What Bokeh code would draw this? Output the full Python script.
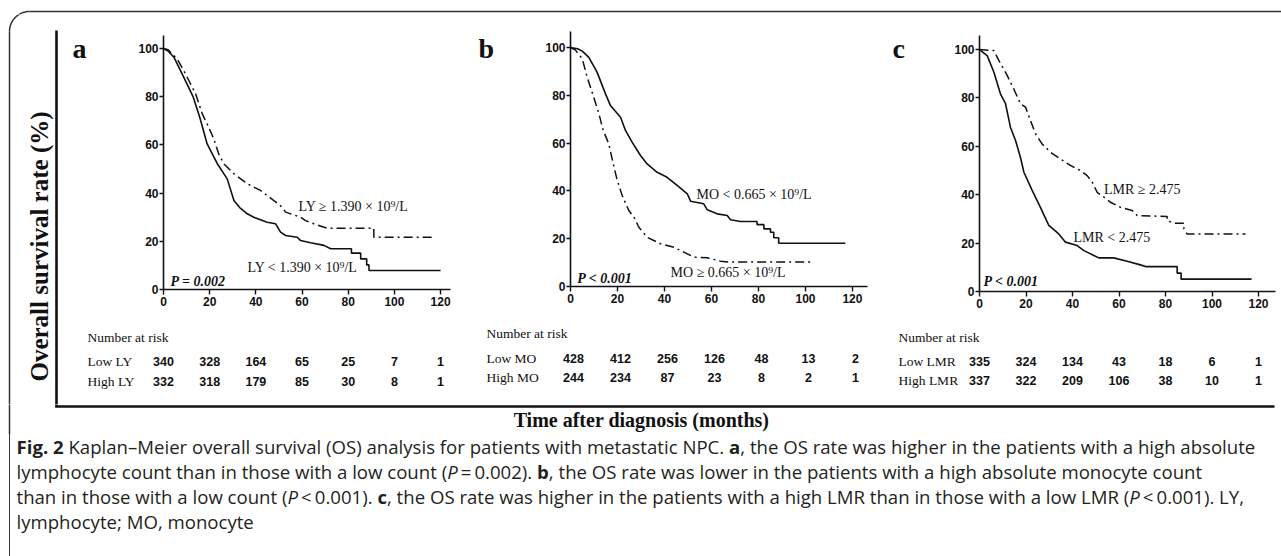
import numpy as np
from bokeh.plotting import figure
from bokeh.layouts import column, row
from bokeh.models import Range1d, FixedTicker, Label, Div
from bokeh.core.properties import value
from bokeh.embed import file_html
from bokeh.resources import INLINE

SERIF = "Liberation Serif"
SANS = "Liberation Sans"
INK = "#111111"

# ---------------- data ----------------
MONTH_TICKS = [0, 20, 40, 60, 80, 100, 120]
SURV_TICKS = [0, 20, 40, 60, 80, 100]
RISK_MONTHS = [0, 20, 40, 60, 80, 100, 120]

# Panel a (lymphocyte)
a_low_t = [0, 2, 4.5, 8.8, 12.9, 15.7, 18.9, 23.3, 27.6, 30.5, 33, 36.3, 39.1, 44.9, 48.5, 50.7, 52.9,
           57.9, 59.4, 63.7, 69.5, 72.4, 81.4, 81.4, 85.4, 85.4, 88, 88, 89, 89, 120]
a_low_s = [100, 99, 96.4, 88, 79.8, 71.5, 60.4, 52.2, 45.9, 36.9, 34, 31.4, 30, 27.9, 27.3, 23.8, 22.4,
           21.7, 20.3, 19.4, 18.3, 16.9, 16.9, 15.1, 15.1, 12.7, 12.7, 10.2, 10.2, 7.9, 7.9]
a_high_t = [0, 2, 5.9, 9.5, 13.9, 16.8, 19.6, 21.8, 23.9, 26.1, 30.5, 36.3, 42, 47.8, 50.5, 52.9,
            59.4, 61.5, 65.1, 70.9, 91.1, 91.1, 117]
a_high_s = [100, 99.5, 95.7, 89.5, 81.2, 72.9, 67.3, 62.5, 56.3, 52.2, 48, 43.9, 41.1, 36.9, 35, 32.1,
            30, 28.6, 27.3, 25.4, 25.4, 21.7, 21.7]
a_rows = ["Low LY", "High LY"]
a_risk_low = [340, 328, 164, 65, 25, 7, 1]
a_risk_high = [332, 318, 179, 85, 30, 8, 1]

# Panel b (monocyte)
b_low_t = [0, 3, 5, 7.8, 11.3, 14.9, 17, 21.3, 23.4, 26.2, 29.8, 32.6, 36.9, 41.1, 45.4, 49.7, 51.1,
           56.7, 58.2, 62.4, 66.7, 68.1, 72.3, 79.4, 79.4, 82.3, 82.3, 85.1, 85.1, 86.5, 86.5, 88.6, 88.6, 117]
b_low_s = [100, 99.5, 98.5, 95.9, 89.7, 80.6, 75.7, 70.8, 65.3, 60.4, 54.8, 51.3, 47.8, 45.7, 42.3, 38.8, 35.7,
           34.6, 32.1, 30.4, 29.7, 27.9, 27.2, 27.2, 25.9, 25.9, 24.1, 24.1, 22.7, 22.7, 20.4, 20.4, 18.1, 18.1]
b_high_t = [0, 2, 5, 7.1, 9.2, 12.1, 13.9, 16.3, 18.2, 19.9, 22, 24.8, 27, 29.1, 32.6, 38.3, 44, 48.2,
            52.5, 58.2, 63.8, 68.1, 102]
b_high_s = [100, 99, 95.3, 87.6, 81.3, 72.3, 65.3, 59.7, 51.3, 44.4, 38.1, 31.8, 29, 24.8, 20.6, 17.9, 16.4, 14.4,
            12.3, 12, 10.6, 10.2, 10.2]
b_rows = ["Low MO", "High MO"]
b_risk_low = [428, 412, 256, 126, 48, 13, 2]
b_risk_high = [244, 234, 87, 23, 8, 2, 1]

# Panel c (LMR)
c_low_t = [0, 3.3, 6.2, 9, 11.2, 13.3, 15.5, 17.6, 19.1, 22.7, 26.2, 29.8, 34.1, 37, 42, 44.9, 49.2, 51.3,
           57.7, 63.5, 69.2, 71.4, 85, 85, 86.7, 86.7, 117]
c_low_s = [100, 97.5, 90.6, 81.7, 77.6, 67.9, 62.4, 55.5, 49.3, 41.7, 34.8, 27.3, 23.8, 20.4, 19, 16.9, 14.9, 13.9,
           13.9, 12.5, 11, 10.3, 10.3, 7.6, 7.6, 5.1, 5.1]
c_high_t = [0, 6.2, 8.3, 11.9, 14.7, 17.6, 19.8, 21.9, 24.1, 26.9, 30.5, 34.8, 39.1, 43.4, 46.3, 48.5, 50.6,
            53.5, 56.3, 60.6, 65.7, 67.8, 80.7, 80.7, 83.6, 87.9, 87.9, 89.3, 114.4]
c_high_s = [100, 99.6, 95.5, 89.3, 83.8, 77.6, 76.2, 70.7, 65.2, 61, 57.6, 54.8, 52.1, 50, 47.9, 45.2, 41,
            39, 36.9, 34.8, 33.5, 31.4, 31, 29.3, 28.2, 28.2, 25.9, 23.8, 23.8]
c_rows = ["Low LMR", "High LMR"]
c_risk_low = [335, 324, 134, 43, 18, 6, 1]
c_risk_high = [337, 322, 209, 106, 38, 10, 1]

Y_TITLE = "Overall survival rate (%)"
X_TITLE = "Time after diagnosis (months)"

# ---------------- layout geometry (pixels) ----------------
TOP_H = 14          # top band
PLOT_BOTTOM = 314   # bottom of the plot row
MID_BOTTOM = 404    # bottom of risk tables


def no_align(f):
    try:
        f.frame_align = False
    except Exception:
        pass
    return f


def base_fig(w, h, x0, x1, y_top, y_bottom):
    f = figure(width=w, height=h, x_range=Range1d(x0, x1), y_range=Range1d(y_bottom, y_top),
               output_backend="svg", toolbar_location=None, min_border=0)
    f.axis.visible = False
    f.grid.visible = False
    f.outline_line_color = None
    f.background_fill_color = "white"
    f.border_fill_color = "white"
    return no_align(f)


def corner_arc():
    th = np.linspace(np.pi / 2, np.pi, 30)
    return 29 + 20 * np.cos(th), 31 - 20 * np.sin(th)


def make_block(letter, block_left, block_w, side_w, f_left, f_right, f_top, f_bottom, xmax, ymax,
               low_t, low_s, high_t, high_s, low_text, low_xy, high_text, high_xy, p_text, p_xy,
               letter_left, rows, risk_low, risk_high, table_left, header_y, row_ys, num_dx=0):
    plot_left = block_left + side_w
    # --- side strip with the panel letter
    side = base_fig(side_w, PLOT_BOTTOM - TOP_H, block_left, plot_left, TOP_H, PLOT_BOTTOM)
    side.text(x=[letter_left], y=[48], text=[letter], text_baseline="alphabetic",
              text_font=value(SERIF), text_font_style="bold", text_font_size="28px", text_color=INK)

    # --- survival plot
    p = figure(width=block_w - side_w, height=PLOT_BOTTOM - TOP_H,
               x_range=Range1d(0, xmax), y_range=Range1d(0, ymax),
               output_backend="svg", toolbar_location=None,
               min_border_left=f_left - plot_left,
               min_border_right=block_left + block_w - f_right,
               min_border_top=f_top - TOP_H,
               min_border_bottom=PLOT_BOTTOM - f_bottom)
    no_align(p)
    p.grid.visible = False
    p.outline_line_color = None
    p.background_fill_color = "white"
    p.border_fill_color = "white"
    p.xaxis.ticker = FixedTicker(ticks=MONTH_TICKS)
    p.yaxis.ticker = FixedTicker(ticks=SURV_TICKS)
    for ax in (p.xaxis[0], p.yaxis[0]):
        ax.axis_line_width = 1.6
        ax.axis_line_color = INK
        ax.major_tick_line_width = 1.4
        ax.major_tick_line_color = INK
        ax.major_tick_out = 5
        ax.major_tick_in = 0
        ax.minor_tick_line_color = None
        ax.major_label_text_font = SANS
        ax.major_label_text_font_style = "bold"
        ax.major_label_text_font_size = "12px"
        ax.major_label_text_color = INK
    p.xaxis.major_label_standoff = 2
    p.yaxis.major_label_standoff = 1
    p.yaxis.major_tick_out = 4

    p.line(low_t, low_s, line_color=INK, line_width=1.6)
    p.line(high_t, high_s, line_color=INK, line_width=1.5, line_dash="9 4 2 4")

    serif_kw = dict(text_font=SERIF, text_color=INK)
    p.add_layout(Label(x=low_xy[0], y=low_xy[1], text=low_text, text_font_size="14px",
                       text_baseline="middle", **serif_kw))
    p.add_layout(Label(x=high_xy[0], y=high_xy[1], text=high_text, text_font_size="14px",
                       text_baseline="middle", **serif_kw))
    p.add_layout(Label(x=p_xy[0], y=p_xy[1], text=p_text, text_font_size="14px",
                       text_font_style="bold italic", text_baseline="middle", **serif_kw))

    # --- number-at-risk table, x in months on the same scale as the plot
    px_per_month = (f_right - f_left) / xmax
    rx0 = (block_left - f_left) / px_per_month
    rx1 = (block_left + block_w - f_left) / px_per_month
    label_x = (table_left - f_left) / px_per_month
    risk = figure(width=block_w, height=MID_BOTTOM - PLOT_BOTTOM,
                  x_range=Range1d(rx0, rx1), y_range=Range1d(MID_BOTTOM, PLOT_BOTTOM),
                  output_backend="svg", toolbar_location=None, min_border=0)
    no_align(risk)
    risk.axis.visible = False
    risk.grid.visible = False
    risk.outline_line_color = None
    risk.text(x=[label_x], y=[header_y], text=["Number at risk"], text_baseline="middle",
              text_font=value(SERIF), text_font_size="13.5px", text_color=INK)
    for name, counts, ry in zip(rows, (risk_low, risk_high), row_ys):
        risk.text(x=[label_x], y=[ry], text=[name], text_baseline="middle",
                  text_font=value(SERIF), text_font_size="13.5px", text_color=INK)
        risk.text(x=RISK_MONTHS, y=[ry] * len(RISK_MONTHS), text=[str(c) for c in counts],
                  x_offset=num_dx, text_align="center", text_baseline="middle",
                  text_font=value(SANS), text_font_style="bold", text_font_size="12.5px",
                  text_color=INK)

    return column(row(side, p, spacing=0), risk, spacing=0)


blk_a = make_block("a", 60, 410, 75, 163, 450, 35, 289, 124.3, 105.4,
                   a_low_t, a_low_s, a_high_t, a_high_s,
                   "LY < 1.390 × 10⁹/L", (36.4, 9.1), "LY ≥ 1.390 × 10⁹/L", (58.5, 34.4),
                   "P = 0.002", (3.0, 3.3), 72, a_rows, a_risk_low, a_risk_high, 87, 337, (361, 381))
blk_b = make_block("b", 470, 410, 70, 570, 867, 31, 286, 126.4, 106.7,
                   b_low_t, b_low_s, b_high_t, b_high_s,
                   "MO < 0.665 × 10⁹/L", (53.6, 38.5), "MO ≥ 0.665 × 10⁹/L", (42.6, 5.9),
                   "P < 0.001", (2.9, 3.3), 478, b_rows, b_risk_low, b_risk_high, 486, 333, (358, 377),
                   num_dx=3)
blk_c = make_block("c", 880, 401, 70, 979, 1275, 35, 291, 127.3, 105.8,
                   c_low_t, c_low_s, c_high_t, c_high_s,
                   "LMR < 2.475", (40.4, 22.4), "LMR ≥ 2.475", (53.5, 42.1),
                   "P < 0.001", (1.7, 4.1), 892, c_rows, c_risk_low, c_risk_high, 898, 337, (361, 380))

# ---- decorative frame pieces (pixel coordinates) ----
ax_, ay_ = corner_arc()

top = base_fig(1281, TOP_H, 0, 1281, 0, TOP_H)
top.line([29, 1290], [11, 11], line_color="#333333", line_width=1.5)
top.line(ax_, ay_, line_color="#333333", line_width=1.5)

left = base_fig(60, MID_BOTTOM - TOP_H, 0, 60, TOP_H, MID_BOTTOM)
left.line(ax_, ay_, line_color="#333333", line_width=1.5)
left.line([9, 9], [31, MID_BOTTOM + 5], line_color="#333333", line_width=1.5)
left.line([56, 56], [30, MID_BOTTOM + 5], line_color=INK, line_width=2.6)
left.text(x=[39], y=[246], text=[Y_TITLE], angle=np.pi / 2, text_align="center", text_baseline="middle",
          text_font=value(SERIF), text_font_style="bold", text_font_size="25px", text_color=INK)

bottom = base_fig(1281, 30, 0, 1281, MID_BOTTOM, MID_BOTTOM + 30)
bottom.line([9, 9], [MID_BOTTOM - 2, MID_BOTTOM + 32], line_color="#333333", line_width=1.5)
bottom.line([56, 56], [MID_BOTTOM - 2, 406], line_color=INK, line_width=2.6)
bottom.line([54.7, 1274], [406, 406], line_color=INK, line_width=2.6)
bottom.text(x=[641], y=[419], text=[X_TITLE], text_align="center", text_baseline="middle",
            text_font=value(SERIF), text_font_style="bold", text_font_size="20px", text_color=INK)

caption_html = (
    '<div style="margin:0 0 0 9px;border-left:1.5px solid #333;padding-left:6.5px;height:122px;'
    'font-family:\'Open Sans\';font-size:18.6px;line-height:25px;color:#231f20;white-space:nowrap;">'
    '<b>Fig. 2</b> Kaplan–Meier overall survival (OS) analysis for patients with metastatic NPC. '
    '<b>a</b>, the OS rate was higher in the patients with a high absolute<br>'
    'lymphocyte count than in those with a low count (<i>P</i>&#8201;=&#8201;0.002). '
    '<b>b</b>, the OS rate was lower in the patients with a high absolute monocyte count<br>'
    'than in those with a low count (<i>P</i>&#8201;&lt;&#8201;0.001). '
    '<b>c</b>, the OS rate was higher in the patients with a high LMR than in those with a low LMR '
    '(<i>P</i>&#8201;&lt;&#8201;0.001). LY,<br>'
    'lymphocyte; MO, monocyte</div>'
)
caption = Div(text=caption_html, width=1281, height=122, margin=0)

p = column(top, row(left, blk_a, blk_b, blk_c, spacing=0), bottom, caption, spacing=0)

open("out.html", "w").write(file_html(p, INLINE))
